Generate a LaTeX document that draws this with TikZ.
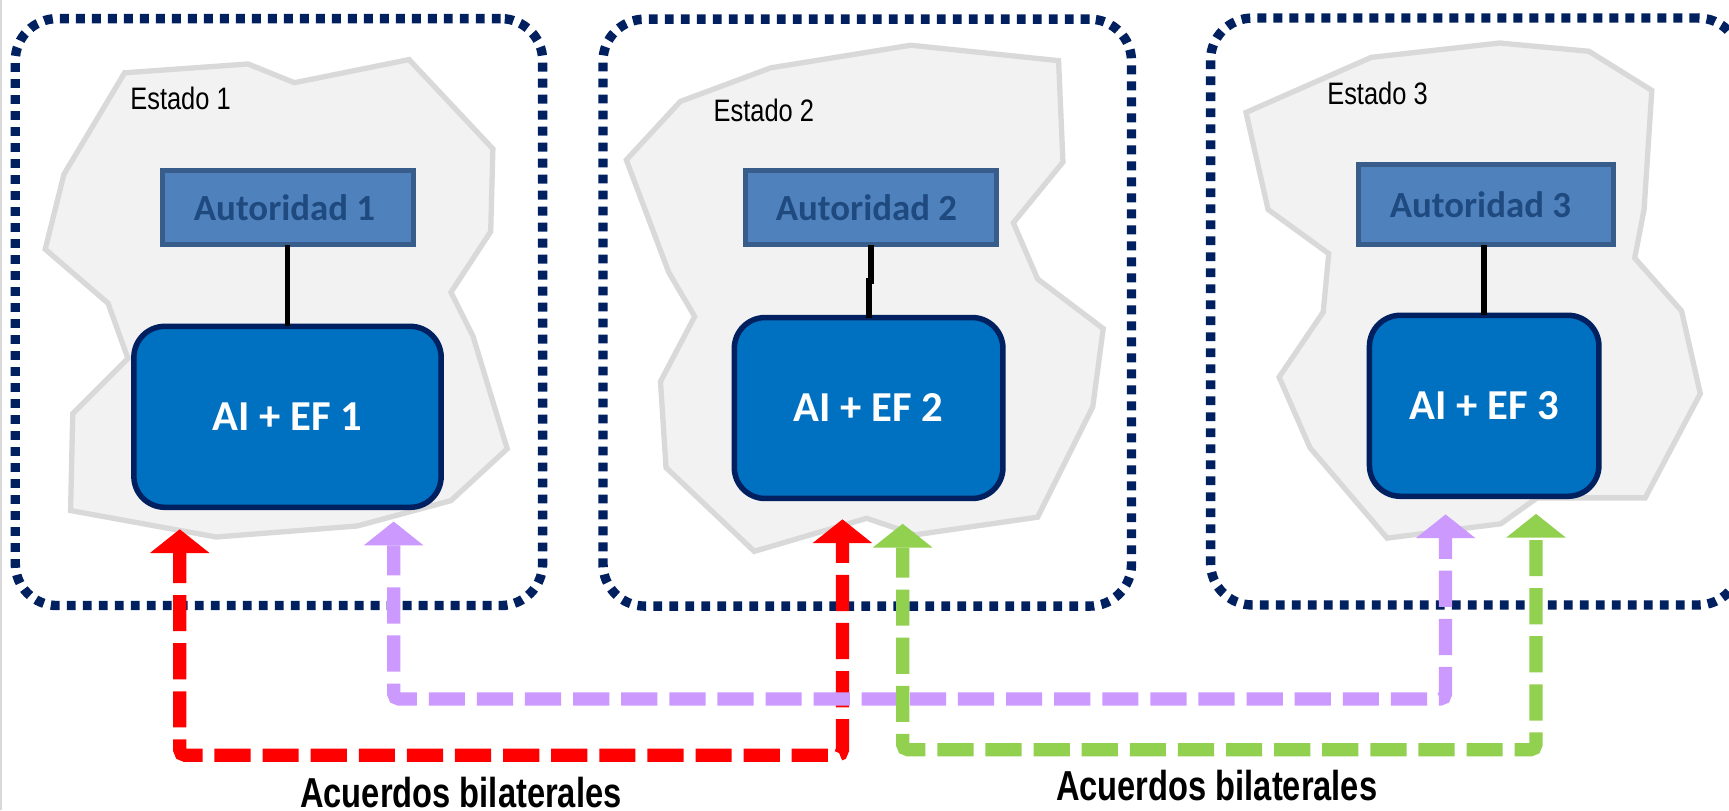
\documentclass[tikz,border=0pt]{standalone}
\usepackage{fontspec}
\setmainfont{Liberation Sans}
\newfontfamily\carlito{Carlito}
\newfontfamily\condfont[FakeStretch=0.78]{Liberation Sans}
\newfontfamily\estfont[FakeStretch=0.82]{Liberation Sans}
\usetikzlibrary{arrows.meta}
\definecolor{navy}{HTML}{002060}
\definecolor{blobfill}{HTML}{F2F2F2}
\definecolor{blobline}{HTML}{D9D9D9}
\definecolor{autfill}{HTML}{4F81BD}
\definecolor{autline}{HTML}{385D8A}
\definecolor{auttext}{HTML}{1F4A80}
\definecolor{aifill}{HTML}{0070C0}
\definecolor{purp}{HTML}{CC99FF}
\definecolor{grn}{HTML}{92D050}
\tikzset{
  x=0.01cm,y=-0.01cm,
  frame/.style={draw=navy,line width=0.085cm,rounded corners=0.38cm,dash pattern=on 0.08cm off 0.065cm,minimum width=4.78cm,minimum height=5.32cm,inner sep=0pt,outer sep=0pt},
  blob/.style={draw=blobline,fill=blobfill,line width=0.048cm,line join=miter},
  aut/.style={draw=autline,fill=autfill,line width=0.045cm,text=auttext,font=\carlito\bfseries\fontsize{9.5}{11}\selectfont,inner sep=0pt,outer sep=0pt,minimum height=0.675cm},
  ai/.style={draw=navy,fill=aifill,line width=0.05cm,rounded corners=0.28cm,text=white,font=\carlito\bfseries\fontsize{11}{13}\selectfont,inner sep=0pt,outer sep=0pt,minimum height=1.64cm},
  link/.style={draw=black,line width=0.052cm},
  bilat/.style={line width=0.12cm,rounded corners=0.05cm,dash pattern=on 0.328cm off 0.108cm,dash phase=0.055cm,{Triangle[length=0.215cm,width=0.54cm,line width=0pt]}-{Triangle[length=0.215cm,width=0.54cm,line width=0pt]}},
  estado/.style={anchor=base west,inner sep=0pt,font=\estfont\fontsize{8}{10}\selectfont},
  acuerdo/.style={inner sep=0pt,anchor=base,font=\condfont\bfseries\fontsize{10.8}{13}\selectfont},
}
\begin{document}
\begin{tikzpicture}
\clip (0,0) rectangle (1568,735);
\fill[white] (0,0) rectangle (1568,735);
\draw[blobline,line width=0.04cm] (0,0) -- (0,735);
% territories
\draw[blob] (113,66)--(225,58)--(267,75)--(371,54)--(447,135)--(445,210)--(409,265)--(429,305)--(460,407)--(409,454)--(324,477)--(196,487)--(64,463)--(66,375)--(116,325)--(98,275)--(41,226)--(58,158)--cycle;
\draw[blob] (617,92)--(699,61.5)--(826,41)--(960,55)--(964,147)--(919,202)--(941,253)--(1000.5,298)--(991,369)--(941,469)--(830,485)--(786,470)--(684,500)--(604,424)--(599,346)--(630,287)--(606.5,247)--(568,145)--cycle;
\draw[blob] (1130,102)--(1243.6,52)--(1360,39)--(1441,46.5)--(1498,82)--(1491,190)--(1482.5,234)--(1525,282)--(1542,357)--(1492,451.5)--(1394,451.5)--(1361,475)--(1258,488)--(1188,406)--(1160,342)--(1200,283)--(1205,230)--(1150,190)--cycle;
% frames
\node[frame] (frame1) at (253,283) {};
\node[frame,minimum width=4.79cm] (frame2) at (786.5,283.5) {};
\node[frame,minimum width=4.8cm] (frame3) at (1338,282.5) {};
% texts of states
\node[estado] (est1) at (117.5,99) {Estado 1};
\node[estado] (est2) at (646.5,110) {Estado 2};
\node[estado] (est3) at (1203,95) {Estado 3};
% authorities
\node[aut,minimum width=2.28cm] (aut1) at (261,188.25) {Autoridad 1\kern0.06cm};
\node[aut,minimum width=2.28cm] (aut2) at (789.75,188.25) {Autoridad 2\kern0.08cm};
\node[aut,minimum width=2.31cm,minimum height=0.73cm] (aut3) at (1347.5,185.5) {Autoridad 3\kern0.1cm};
% AI boxes
\node[ai,minimum width=2.785cm] (ai1) at (260.75,378) {AI + EF 1};
\node[ai,minimum width=2.435cm] (ai2) at (787.75,370) {AI + EF 2};
\node[ai,minimum width=2.08cm] (ai3) at (1346,368) {AI + EF 3};
% links
\draw[link] (ai1.north) -- (ai1.north |- aut1.south);
\coordinate (jog) at (0,255);
\draw[link] (aut2.south) |- (jog -| ai2.north) -- (ai2.north);
\draw[link] (ai3.north) -- (ai3.north |- aut3.south);
% bilateral agreements
\coordinate (r1) at (163,480);
\coordinate (r2) at (764,471);
\coordinate (rb) at (0,685);
\coordinate (p1) at (357,473);
\coordinate (p2) at (1311,466.5);
\coordinate (pb) at (0,634);
\coordinate (g1) at (818.6,475);
\coordinate (g2) at (1393,466);
\coordinate (gb) at (0,680);
\draw[bilat,draw=red] (r1) -- (r1 |- rb) -- (r2 |- rb) -- (r2);
\draw[bilat,draw=purp] (p1) -- (p1 |- pb) -- (p2 |- pb) -- (p2);
\draw[bilat,draw=grn] (g1) -- (g1 |- gb) -- (g2 |- gb) -- (g2);
\node[acuerdo] (lab1) at (418,732) {Acuerdos bilaterales};
\node[acuerdo] (lab2) at (1103.4,726) {Acuerdos bilaterales};
\end{tikzpicture}
\end{document}
